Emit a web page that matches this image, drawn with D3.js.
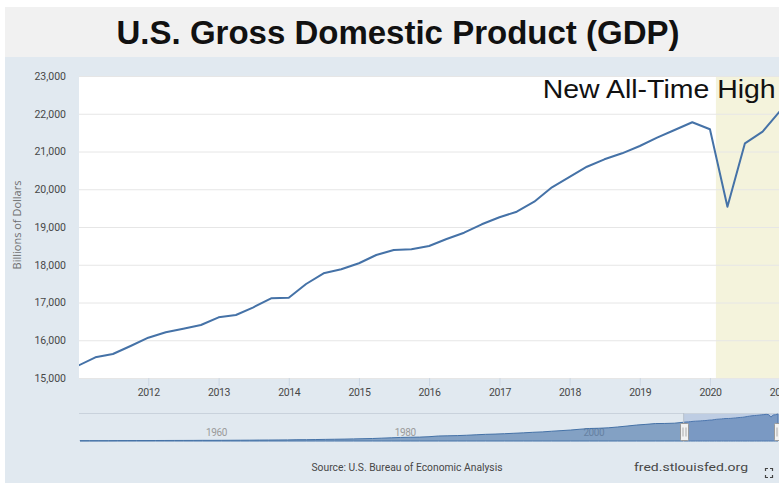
<!DOCTYPE html>
<html>
<head>
<meta charset="utf-8">
<script src="https://cdn.jsdelivr.net/npm/d3@7"></script>
<style>
  html, body { margin: 0; padding: 0; background: #fff; overflow: hidden; }
  svg { display: block; }
</style>
</head>
<body>
<svg id="chart" width="779" height="483"></svg>
<script>
// ---- Text ----
const chartTitle = "U.S. Gross Domestic Product (GDP)";
const annotation = "New All-Time High";
const yAxisTitle = "Billions of Dollars";
const sourceText = "Source: U.S. Bureau of Economic Analysis";
const siteText = "fred.stlouisfed.org";

// ---- Data ----
// Quarterly GDP, billions of dollars, starting 2011 Q1
const firstQuarter = [2011, 0];
const gdpQuarterly = [
  15326, 15548, 15636, 15848,
  16068, 16210, 16305, 16404,
  16608, 16669, 16873, 17111,
  17127, 17490, 17773, 17880,
  18040, 18258, 18391, 18409,
  18497, 18682, 18849, 19072,
  19258, 19405, 19670, 20052,
  20330, 20597, 20793, 20952,
  21146, 21366, 21570, 21774,
  21588, 19538, 21217, 21525,
  22080
];
// Annual GDP for the overview strip, 1947 to 2010
const firstYear = 1947;
const gdpAnnual = [
  244, 266, 275, 280, 337, 358, 382, 387, 400, 432,
  458, 461, 494, 540, 534, 575, 605, 649, 686, 754,
  800, 845, 920, 1051, 1086, 1191, 1329, 1434, 1549, 1717,
  1873, 2033, 2336, 2629, 2905, 3054, 3171, 3510, 4084, 4243,
  4418, 4709, 5083, 5452, 5657, 5956, 6313, 6665, 7106, 7448,
  7974, 8474, 8945, 9631, 10232, 10420, 10776, 11457, 12216, 13039,
  13600, 14262, 14337, 14558
];
const yTicks = [15000, 16000, 17000, 18000, 19000, 20000, 21000, 22000, 23000];
const xTickYears = [2012, 2013, 2014, 2015, 2016, 2017, 2018, 2019, 2020, 2021];
const navTickYears = [1960, 1980, 2000];
const recessionStart = new Date(2020, 1, 1);

const quarterly = gdpQuarterly.map((v, i) => ({ date: new Date(firstQuarter[0], firstQuarter[1] + 3 * i, 1), value: v }));
const overview = gdpAnnual.map((v, i) => ({ date: new Date(firstYear + i, 0, 1), value: v })).concat(quarterly);

// ---- Layout ----
const W = 779, H = 483;
const plot = { left: 79, right: 779, top: 76, bottom: 378 };
const nav = { left: 80, right: 778, top: 413, bottom: 441 };
const BG = "#e1e9f0";
const LINE = "#4572a7";
const TICK_TEXT = "#474747";
const tickFont = "Roboto, 'Open Sans', sans-serif";

const svg = d3.select("#chart");

// Page backgrounds
svg.append("rect").attr("width", W).attr("height", H).attr("fill", "#ffffff");
svg.append("rect").attr("x", 5).attr("y", 57).attr("width", W - 5).attr("height", H - 57).attr("fill", BG);
svg.append("rect").attr("x", 5).attr("y", 7).attr("width", W - 5).attr("height", 50).attr("fill", "#f1f1f1");

svg.append("text")
  .attr("x", 398).attr("y", 44)
  .attr("text-anchor", "middle")
  .style("font-family", "'Liberation Sans', Arial, sans-serif")
  .style("font-weight", "bold")
  .style("font-size", "33px")
  .attr("fill", "#111")
  .text(chartTitle);

// ---- Scales ----
const x = d3.scaleTime()
  .domain([new Date(2011, 0, 1), new Date(2021, 0, 1)])
  .range([78.1, 780.3]);
const y = d3.scaleLinear()
  .domain([15000, 23000])
  .range([plot.bottom, plot.top]);

// Plot background and recession shading
svg.append("rect")
  .attr("x", plot.left).attr("y", plot.top)
  .attr("width", plot.right - plot.left).attr("height", plot.bottom - plot.top)
  .attr("fill", "#ffffff");
svg.append("rect")
  .attr("x", x(recessionStart)).attr("y", plot.top)
  .attr("width", plot.right - x(recessionStart)).attr("height", plot.bottom - plot.top)
  .attr("fill", "#f4f3dc");

// Horizontal grid
svg.append("g")
  .attr("transform", `translate(${plot.left},0)`)
  .call(d3.axisLeft(y).tickValues(yTicks).tickSize(-(plot.right - plot.left)).tickFormat(""))
  .call(g => g.select(".domain").remove())
  .call(g => g.selectAll("line").attr("stroke", "#e6e6e6").attr("stroke-width", 1));

// Y axis labels
svg.append("g")
  .attr("transform", `translate(${plot.left},0)`)
  .call(d3.axisLeft(y).tickValues(yTicks).tickSize(0).tickPadding(13).tickFormat(d3.format(",")))
  .call(g => g.select(".domain").remove())
  .call(g => g.selectAll("text")
    .attr("fill", TICK_TEXT)
    .style("font-family", tickFont)
    .style("font-size", "10.5px"));

svg.append("text")
  .attr("transform", "translate(21,225) rotate(-90)")
  .attr("text-anchor", "middle")
  .style("font-family", "'Open Sans', sans-serif")
  .style("font-size", "11px")
  .attr("fill", "#6f6f6f")
  .text(yAxisTitle);

// X axis
svg.append("g")
  .attr("transform", `translate(0,${plot.bottom})`)
  .call(d3.axisBottom(x).tickValues(xTickYears.map(yr => new Date(yr, 0, 1)))
    .tickSize(8).tickPadding(3).tickFormat(d3.timeFormat("%Y")))
  .call(g => g.select(".domain").remove())
  .call(g => g.selectAll("line").attr("stroke", "#ccd6e2"))
  .call(g => g.selectAll("text")
    .attr("fill", TICK_TEXT)
    .style("font-family", tickFont)
    .style("font-size", "10.5px")
    .style("letter-spacing", "-0.4px"));

// GDP line
svg.append("clipPath").attr("id", "plot-clip")
  .append("rect")
  .attr("x", plot.left).attr("y", plot.top - 2)
  .attr("width", plot.right - plot.left).attr("height", plot.bottom - plot.top + 4);

svg.append("path")
  .datum(quarterly)
  .attr("clip-path", "url(#plot-clip)")
  .attr("fill", "none")
  .attr("stroke", LINE)
  .attr("stroke-width", 2)
  .attr("stroke-linejoin", "round")
  .attr("d", d3.line().x(d => x(d.date)).y(d => y(d.value)));

// Annotation
svg.append("text")
  .attr("x", 542.7).attr("y", 97.7)
  .attr("textLength", 233)
  .attr("lengthAdjust", "spacingAndGlyphs")
  .style("font-family", "'Liberation Sans', Arial, sans-serif")
  .style("font-size", "26px")
  .attr("fill", "#111")
  .text(annotation);

// ---- Overview navigator ----
const nx = d3.scaleTime()
  .domain([new Date(1947, 0, 1), new Date(2021, 0, 1)])
  .range([nav.left, nav.right]);
const ny = d3.scaleLinear()
  .domain([0, d3.max(overview, d => d.value)])
  .range([nav.bottom, nav.top + 1]);

svg.append("line")
  .attr("x1", plot.left).attr("x2", plot.right)
  .attr("y1", nav.top + 0.5).attr("y2", nav.top + 0.5)
  .attr("stroke", "#c9d2dc");

// Navigator year labels (drawn under the area)
svg.append("g")
  .attr("transform", `translate(0,${nav.top})`)
  .call(d3.axisBottom(nx).tickValues(navTickYears.map(yr => new Date(yr, 0, 1)))
    .tickSize(0).tickPadding(0).tickFormat(d3.timeFormat("%Y")))
  .call(g => g.select(".domain").remove())
  .call(g => g.selectAll("text")
    .attr("x", 3).attr("y", 23).attr("dy", null)
    .attr("text-anchor", "start")
    .attr("fill", "#9a9a9a")
    .style("font-family", tickFont)
    .style("font-size", "10px")
    .style("letter-spacing", "-0.4px"));

const selStart = nx(new Date(2011, 0, 1));

svg.append("path")
  .datum(overview)
  .attr("fill", LINE)
  .attr("fill-opacity", 0.6)
  .attr("stroke", LINE)
  .attr("stroke-width", 1)
  .attr("d", d3.area().x(d => nx(d.date)).y0(nav.bottom).y1(d => ny(d.value)));

// Selected range mask
svg.append("rect")
  .attr("x", selStart).attr("y", nav.top + 1)
  .attr("width", W - selStart).attr("height", nav.bottom - nav.top - 1)
  .attr("fill", "rgba(102,133,194,0.28)");
svg.append("line")
  .attr("x1", selStart).attr("x2", selStart)
  .attr("y1", nav.top).attr("y2", nav.bottom + 1)
  .attr("stroke", "#b8c2cc");

// Range handles
[selStart, nav.right].forEach(hx => {
  const h = svg.append("g").attr("transform", `translate(${Math.round(hx) + 0.5},423.5)`);
  h.append("rect").attr("x", -4).attr("y", 0).attr("width", 8).attr("height", 17)
    .attr("fill", "#f2f2f2").attr("stroke", "#999").attr("rx", 1);
  h.append("line").attr("x1", -1.5).attr("x2", -1.5).attr("y1", 4).attr("y2", 13).attr("stroke", "#aaa");
  h.append("line").attr("x1", 1.5).attr("x2", 1.5).attr("y1", 4).attr("y2", 13).attr("stroke", "#aaa");
});

// ---- Footer ----
svg.append("text")
  .attr("x", 407).attr("y", 471)
  .attr("text-anchor", "middle")
  .attr("textLength", 191).attr("lengthAdjust", "spacingAndGlyphs")
  .style("font-family", tickFont)
  .style("font-size", "11px")
  .attr("fill", TICK_TEXT)
  .text(sourceText);
svg.append("text")
  .attr("x", 634).attr("y", 471)
  .attr("textLength", 114).attr("lengthAdjust", "spacingAndGlyphs")
  .style("font-family", tickFont)
  .style("font-size", "11px")
  .attr("fill", TICK_TEXT)
  .text(siteText);

// Full-screen icon: four corner brackets
const icon = svg.append("g").attr("transform", "translate(765.5,468.5)")
  .attr("fill", "none").attr("stroke", "#444").attr("stroke-width", 1.2);
[[0, 0, 1, 1], [7, 0, -1, 1], [0, 9, 1, -1], [7, 9, -1, -1]].forEach(([cx, cy, sx, sy]) => {
  icon.append("path").attr("d", `M${cx},${cy + 2.5 * sy}V${cy}H${cx + 2.5 * sx}`);
});
</script>
</body>
</html>
